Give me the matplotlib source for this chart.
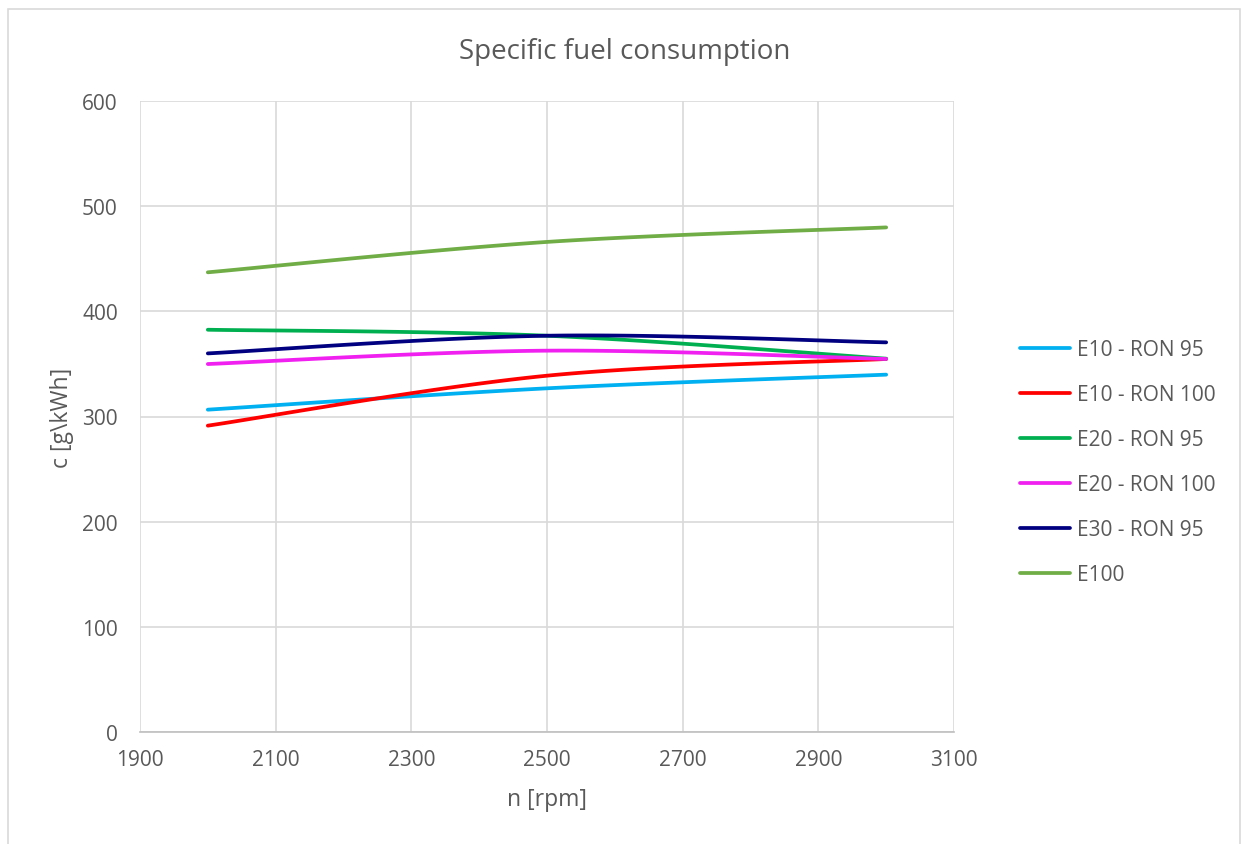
import numpy as np
import matplotlib
matplotlib.use("Agg")
import matplotlib.pyplot as plt
from matplotlib.patches import Rectangle

# Engine speed [rpm] at which the fuels were measured
rpm = [2000, 2500, 3000]

# Specific fuel consumption [g/kWh] per fuel
e10_ron95 = [306.5, 326.8, 339.8]
e10_ron100 = [291.3, 338.8, 354.7]
e20_ron95 = [382.5, 376.8, 355.0]
e20_ron100 = [349.9, 362.6, 354.7]
e30_ron95 = [360.0, 376.8, 370.5]
e100 = [437.1, 466.0, 479.8]

series_names = ["E10 - RON 95", "E10 - RON 100", "E20 - RON 95",
                "E20 - RON 100", "E30 - RON 95", "E100"]
series_values = [e10_ron95, e10_ron100, e20_ron95, e20_ron100, e30_ron95, e100]
colors = ["#00B0F0", "#FF0000", "#00B050", "#F020F0", "#000080", "#70AD47"]

x_ticks = [1900, 2100, 2300, 2500, 2700, 2900, 3100]
y_ticks = [0, 100, 200, 300, 400, 500, 600]


def smooth(xs, ys, n=60):
    """Bezier smoothing through the points (spreadsheet-style smoothed line)."""
    p = np.column_stack([xs, ys]).astype(float)
    k = len(p)
    out = []
    for i in range(k - 1):
        p0 = p[i - 1] if i > 0 else p[i]
        p1, p2 = p[i], p[i + 1]
        p3 = p[i + 2] if i + 2 < k else p[i + 1]
        c1 = p1 + (p2 - p0) / 6.0
        c2 = p2 - (p3 - p1) / 6.0
        t = np.linspace(0, 1, n)[:, None]
        seg = ((1 - t) ** 3) * p1 + 3 * ((1 - t) ** 2) * t * c1 \
            + 3 * (1 - t) * t ** 2 * c2 + t ** 3 * p2
        out.append(seg if i == 0 else seg[1:])
    out = np.vstack(out)
    return out[:, 0], out[:, 1]


plt.rcParams["font.family"] = ["Open Sans", "DejaVu Sans"]
text_color = "#595959"

W, H = 1245, 845
fig = plt.figure(figsize=(W / 100, H / 100), dpi=100)
fig.patches.append(Rectangle((7.5 / W, -0.1), (1240 - 7.5) / W, 1.1 - 10 / H,
                             transform=fig.transFigure, fill=False,
                             edgecolor="#D9D9D9", linewidth=1.2))

ax_l, ax_r, ax_t, ax_b = 140, 954, 102, 733
ax = fig.add_axes([ax_l / W, (H - ax_b) / H, (ax_r - ax_l) / W, (ax_b - ax_t) / H])

for name, vals, c in zip(series_names, series_values, colors):
    sx, sy = smooth(rpm, vals)
    ax.plot(sx, sy, color=c, linewidth=2.7, solid_capstyle="round", label=name)

ax.set_xlim(1900, 3100)
ax.set_ylim(0, 600)
ax.set_xticks(x_ticks)
ax.set_yticks(y_ticks)
ax.grid(True, color="#D9D9D9", linewidth=1.2)
ax.set_axisbelow(True)
for side in ["top", "right", "left"]:
    ax.spines[side].set_visible(False)
ax.spines["bottom"].set_color("#BFBFBF")
ax.spines["bottom"].set_linewidth(1.2)
ax.tick_params(length=0, labelsize=15, colors=text_color)
ax.tick_params(axis="x", pad=12)
ax.tick_params(axis="y", pad=16)

ax.set_xlabel("n [rpm]", fontsize=16.5, color=text_color, va="center")
ax.xaxis.set_label_coords(0.5, (ax_b - 800) / (ax_b - ax_t))
ax.set_ylabel("c [g\\kWh]", fontsize=16.5, color=text_color, va="center")
ax.yaxis.set_label_coords((62 - ax_l) / (ax_r - ax_l), (ax_b - 418) / (ax_b - ax_t))
fig.text(625 / W, 1 - 52 / H, "Specific fuel consumption", ha="center",
         va="center", fontsize=20, color=text_color)

leg = ax.legend(loc="center left",
                bbox_to_anchor=((1001 - ax_l) / (ax_r - ax_l), (ax_b - 463) / (ax_b - ax_t)),
                frameon=False, fontsize=15, labelcolor=text_color,
                handlelength=2.4, handletextpad=0.35, labelspacing=1.15)

fig.savefig("out.png", dpi=100)
